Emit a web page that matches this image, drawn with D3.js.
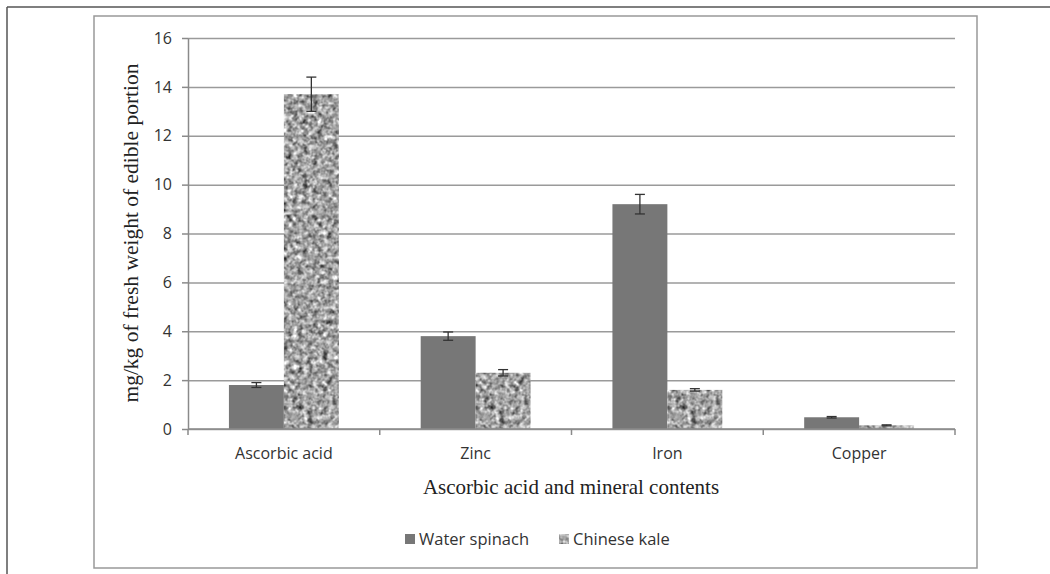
<!DOCTYPE html>
<html>
<head>
<meta charset="utf-8">
<script src="https://cdn.jsdelivr.net/npm/d3@7"></script>
<style>
  html, body { margin: 0; padding: 0; background: #fff; }
  svg { display: block; }
</style>
</head>
<body>
<svg id="chart" width="1050" height="574"></svg>
<script>
// ---- data ----
const categories = ["Ascorbic acid", "Zinc", "Iron", "Copper"];
const seriesNames = ["Water spinach", "Chinese kale"];
const waterSpinach = [1.8, 3.8, 9.2, 0.48];
const chineseKale = [13.7, 2.3, 1.6, 0.15];
const waterSpinachErr = [0.1, 0.17, 0.4, 0.03];
const chineseKaleErr = [0.7, 0.13, 0.05, 0.02];
const yTicks = [0, 2, 4, 6, 8, 10, 12, 14, 16];
const xTitle = "Ascorbic acid and mineral contents";
const yTitle = "mg/kg of fresh weight of edible portion";

const svg = d3.select("#chart");

// ---- texture for Chinese kale ----
const defs = svg.append("defs");
const f = defs.append("filter").attr("id", "speckle")
  .attr("x", 0).attr("y", 0).attr("width", 1).attr("height", 1)
  .attr("color-interpolation-filters", "sRGB");
f.append("feTurbulence").attr("type", "fractalNoise")
  .attr("baseFrequency", 0.2).attr("numOctaves", 2).attr("seed", 7).attr("result", "t");
f.append("feColorMatrix").attr("type", "matrix")
  .attr("values", "0.33 0.33 0.33 0 0  0.33 0.33 0.33 0 0  0.33 0.33 0.33 0 0  0 0 0 0 1")
  .attr("result", "g");
const ct = f.append("feComponentTransfer").attr("result", "c");
["feFuncR", "feFuncG", "feFuncB"].forEach(n =>
  ct.append(n).attr("type", "linear").attr("slope", 2.0).attr("intercept", -0.36));
f.append("feComposite").attr("in", "c").attr("in2", "SourceGraphic").attr("operator", "in");

// ---- frames ----
svg.append("line").attr("x1", 7).attr("y1", 7).attr("x2", 1050).attr("y2", 7)
  .attr("stroke", "#555").attr("stroke-width", 1.5);
svg.append("line").attr("x1", 7).attr("y1", 7).attr("x2", 7).attr("y2", 574)
  .attr("stroke", "#555").attr("stroke-width", 1.5);
svg.append("rect").attr("x", 94).attr("y", 16).attr("width", 883).attr("height", 552)
  .attr("fill", "none").attr("stroke", "#999").attr("stroke-width", 1.5);

// ---- scales ----
const x = d3.scaleBand().domain(categories).range([188, 955]).paddingInner(0).paddingOuter(0);
const x1 = d3.scaleBand().domain(seriesNames).range([0, x.bandwidth()]).paddingInner(0).paddingOuter(0.745);
const y = d3.scaleLinear().domain([0, 16]).range([429, 38]);

const sans = "'Open Sans', 'Noto Sans', sans-serif";
const serif = "'Liberation Serif', 'Times New Roman', serif";

// gridlines
svg.append("g").attr("class", "grid")
  .attr("transform", `translate(${x.range()[0]},0)`)
  .call(d3.axisLeft(y).tickValues(yTicks).tickSize(-(x.range()[1] - x.range()[0])).tickFormat(""))
  .call(g => g.select(".domain").remove())
  .call(g => g.selectAll("line").attr("stroke", "#9a9a9a").attr("stroke-width", 1.5));

// y axis
svg.append("g")
  .attr("transform", `translate(${x.range()[0]},0)`)
  .call(d3.axisLeft(y).tickValues(yTicks).tickSize(6).tickSizeOuter(0).tickPadding(10))
  .call(g => g.select(".domain").attr("stroke", "#8a8a8a").attr("stroke-width", 1.5))
  .call(g => g.selectAll(".tick line").attr("stroke", "#8a8a8a").attr("stroke-width", 1.5))
  .call(g => g.selectAll("text").attr("font-family", sans).attr("font-size", 16).attr("fill", "#333"));

// bars
const rows = categories.map((c, i) => ({
  cat: c,
  vals: [
    { s: seriesNames[0], v: waterSpinach[i], e: waterSpinachErr[i] },
    { s: seriesNames[1], v: chineseKale[i], e: chineseKaleErr[i] }
  ]
}));
const grp = svg.append("g").selectAll("g").data(rows).join("g")
  .attr("transform", d => `translate(${x(d.cat)},0)`);
grp.selectAll("rect").data(d => d.vals).join("rect")
  .attr("x", d => x1(d.s))
  .attr("y", d => y(d.v))
  .attr("width", x1.bandwidth())
  .attr("height", d => y(0) - y(d.v))
  .attr("fill", d => d.s === seriesNames[0] ? "#777777" : "#aaaaaa")
  .attr("filter", d => d.s === seriesNames[0] ? null : "url(#speckle)");

// x axis line + boundary ticks
svg.append("line").attr("x1", x.range()[0]).attr("x2", x.range()[1])
  .attr("y1", y(0)).attr("y2", y(0)).attr("stroke", "#8a8a8a").attr("stroke-width", 1.5);
const bounds = categories.map(c => x(c)).concat([x(categories[categories.length - 1]) + x.bandwidth()]);
svg.append("g").selectAll("line").data(bounds).join("line")
  .attr("x1", d => d).attr("x2", d => d).attr("y1", y(0)).attr("y2", y(0) + 6)
  .attr("stroke", "#8a8a8a").attr("stroke-width", 1.5);

// error bars
const eb = grp.selectAll("g.err").data(d => d.vals).join("g").attr("class", "err")
  .attr("stroke", "#333").attr("stroke-width", 1.3);
const cx = d => x1(d.s) + x1.bandwidth() / 2;
eb.append("line").attr("x1", cx).attr("x2", cx)
  .attr("y1", d => y(d.v + d.e)).attr("y2", d => y(d.v - d.e));
eb.append("line").attr("x1", d => cx(d) - 5).attr("x2", d => cx(d) + 5)
  .attr("y1", d => y(d.v + d.e)).attr("y2", d => y(d.v + d.e));
eb.append("line").attr("x1", d => cx(d) - 5).attr("x2", d => cx(d) + 5)
  .attr("y1", d => y(d.v - d.e)).attr("y2", d => y(d.v - d.e));

// category labels
svg.append("g").selectAll("text").data(categories).join("text")
  .attr("x", d => x(d) + x.bandwidth() / 2).attr("y", 459)
  .attr("text-anchor", "middle").attr("font-family", sans).attr("font-size", 16).attr("fill", "#333")
  .text(d => d);

// axis titles
svg.append("text").attr("x", 571).attr("y", 494).attr("text-anchor", "middle")
  .attr("font-family", serif).attr("font-size", 21).attr("fill", "#222").text(xTitle);
svg.append("text").attr("transform", "translate(138,233) rotate(-90)").attr("text-anchor", "middle")
  .attr("font-family", serif).attr("font-size", 21.5).attr("fill", "#222").text(yTitle);

// legend
const legX = [405, 559];
const leg = svg.append("g").selectAll("g").data(seriesNames).join("g")
  .attr("transform", (d, i) => `translate(${legX[i]},534)`);
leg.append("rect").attr("width", 10).attr("height", 10)
  .attr("fill", (d, i) => i === 0 ? "#777777" : "#aaaaaa")
  .attr("filter", (d, i) => i === 0 ? null : "url(#speckle)");
leg.append("text").attr("x", 14).attr("y", 11).attr("font-family", sans).attr("font-size", 16.5)
  .attr("fill", "#333").text(d => d);
</script>
</body>
</html>
